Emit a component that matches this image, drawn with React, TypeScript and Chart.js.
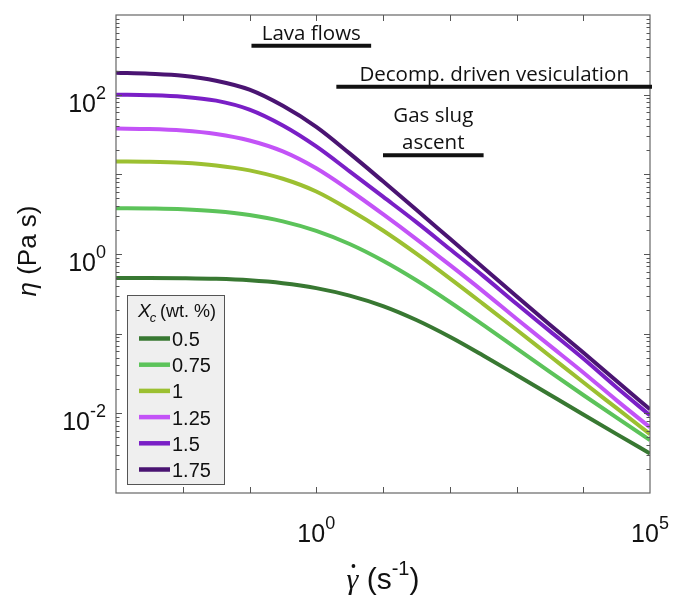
import React, { useEffect, useRef } from "react";
import { Chart, registerables } from "chart.js";

Chart.register(...registerables);

// ---------- data ----------
const shearRate = [0.001, 0.00316, 0.01, 0.0316, 0.1, 0.316, 1, 3.16, 10, 31.6, 100, 316, 1000, 3162, 10000, 31623, 100000];

const eta050 = [0.501, 0.501, 0.4966, 0.4875, 0.4677, 0.4305, 0.3733, 0.3006, 0.2218, 0.1483, 0.0914, 0.0532, 0.0303, 0.0171, 0.00966, 0.00548, 0.00313];
const eta075 = [3.758, 3.724, 3.648, 3.451, 3.09, 2.57, 1.95, 1.334, 0.822, 0.4677, 0.25, 0.1288, 0.0653, 0.0331, 0.01698, 0.00881, 0.00462];
const eta100 = [14.54, 14.4, 13.95, 12.93, 11.21, 8.8, 6.09, 3.585, 1.97, 1.01, 0.4948, 0.2368, 0.1121, 0.05243, 0.02453, 0.0116, 0.005489];
const eta125 = [37.6, 37.1, 35.5, 32.1, 26.6, 19.4, 11.9, 6.31, 3.16, 1.54, 0.729, 0.34, 0.154, 0.0708, 0.0326, 0.01454, 0.00668];
const eta150 = [100, 98.6, 94.4, 84.1, 64.9, 41, 22.4, 10.9, 5.24, 2.51, 1.155, 0.531, 0.237, 0.1075, 0.0487, 0.0211, 0.00944];
const eta175 = [188.4, 183, 172.9, 149.6, 115.5, 72.4, 39.4, 18.3, 8.17, 3.6, 1.56, 0.678, 0.294, 0.1296, 0.0579, 0.02547, 0.01122];

const seriesLabels = ["0.5", "0.75", "1", "1.25", "1.5", "1.75"];
const seriesValues = [eta050, eta075, eta100, eta125, eta150, eta175];
const seriesColors = ["#387832", "#5cc35a", "#9cc031", "#c353f7", "#7a1fc6", "#4a1472"];

const regimeLabels = [["Lava flows"], ["Decomp. driven vesiculation"], ["Gas slug", "ascent"]];
const regimeFrom = [0.107, 2, 10];
const regimeTo = [6.2, 100000, 300];
const regimeEta = [410, 126, 17.3];

const xLabelExponents = [0, 5];
const yLabelExponents = [2, 0, -2];
const xExpRange = [-3, 5];
const yExpRange = [-3, 3];

// ---------- drawing helpers ----------
const SANS = '"Liberation Sans", Arial, sans-serif';
const ANNOT = '"Open Sans", sans-serif';

function drawPow(ctx: CanvasRenderingContext2D, exp: number, x: number, baseY: number, align: "center" | "right") {
  ctx.save();
  ctx.fillStyle = "#111";
  ctx.textBaseline = "alphabetic";
  ctx.textAlign = "left";
  ctx.font = `25px ${SANS}`;
  const w1 = ctx.measureText("10").width;
  ctx.font = `18px ${SANS}`;
  const sup = String(exp);
  const w2 = ctx.measureText(sup).width;
  const total = w1 + w2;
  const sx = align === "center" ? x - total / 2 : x - total;
  ctx.font = `25px ${SANS}`;
  ctx.fillText("10", sx, baseY);
  ctx.font = `18px ${SANS}`;
  ctx.fillText(sup, sx + w1, baseY - 13);
  ctx.restore();
}

const decorPlugin = {
  id: "decor",
  afterDatasetsDraw(chart: any) {
    const { ctx, chartArea } = chart;
    const { left, top, right, bottom } = chartArea;
    const xs = chart.scales.x;
    const ys = chart.scales.y;
    ctx.save();

    // frame
    ctx.strokeStyle = "#666";
    ctx.lineWidth = 1.2;
    ctx.strokeRect(left, top, right - left, bottom - top);

    // x ticks (major only) on bottom and top
    ctx.lineWidth = 1;
    ctx.strokeStyle = "#555";
    for (let e = xExpRange[0] + 1; e < xExpRange[1]; e++) {
      const px = Math.round(xs.getPixelForValue(Math.pow(10, e))) + 0.5;
      ctx.beginPath();
      ctx.moveTo(px, bottom);
      ctx.lineTo(px, bottom - 6);
      ctx.moveTo(px, top);
      ctx.lineTo(px, top + 6);
      ctx.stroke();
    }
    // y ticks (major + minor) on left and right
    for (let e = yExpRange[0]; e < yExpRange[1]; e++) {
      for (let m = 1; m < 10; m++) {
        if (m === 1 && e === yExpRange[0]) continue;
        const v = m * Math.pow(10, e);
        const py = Math.round(ys.getPixelForValue(v)) + 0.5;
        const len = m === 1 ? 6 : 3.5;
        ctx.beginPath();
        ctx.moveTo(left, py);
        ctx.lineTo(left + len, py);
        ctx.moveTo(right, py);
        ctx.lineTo(right - len, py);
        ctx.stroke();
      }
    }

    // tick labels
    xLabelExponents.forEach((e) => {
      drawPow(ctx, e, xs.getPixelForValue(Math.pow(10, e)), 542, "center");
    });
    yLabelExponents.forEach((e) => {
      drawPow(ctx, e, 106, ys.getPixelForValue(Math.pow(10, e)) + 17, "right");
    });

    // regime annotation bars
    ctx.fillStyle = "#111";
    ctx.strokeStyle = "#111";
    ctx.lineWidth = 4;
    ctx.font = `20.5px ${ANNOT}`;
    ctx.textAlign = "center";
    ctx.textBaseline = "alphabetic";
    regimeLabels.forEach((lines, i) => {
      const x1 = xs.getPixelForValue(regimeFrom[i]);
      const x2 = Math.min(xs.getPixelForValue(regimeTo[i]) + 2, chart.width);
      const py = ys.getPixelForValue(regimeEta[i]);
      ctx.beginPath();
      ctx.moveTo(x1, py);
      ctx.lineTo(x2, py);
      ctx.stroke();
      const cx = (x1 + x2) / 2;
      const n = lines.length;
      lines.forEach((t, j) => {
        ctx.fillText(t, cx, py - 6 - (n - 1 - j) * 27);
      });
    });

    // legend box
    const lx = 127, ly = 295, lw = 97, lh = 189;
    ctx.fillStyle = "#efefef";
    ctx.fillRect(lx, ly, lw, lh);
    ctx.strokeStyle = "#555";
    ctx.lineWidth = 1;
    ctx.strokeRect(lx + 0.5, ly + 0.5, lw, lh);
    ctx.fillStyle = "#111";
    ctx.textAlign = "left";
    ctx.font = `italic 19px ${SANS}`;
    ctx.fillText("X", 138, 317);
    const wx = ctx.measureText("X").width;
    ctx.font = `italic 13px ${SANS}`;
    ctx.fillText("c", 138 + wx - 1, 322);
    ctx.font = `18px ${SANS}`;
    ctx.fillText("(wt. %)", 160, 317);
    seriesLabels.forEach((lab, i) => {
      const ry = 338.5 + i * 26.2;
      ctx.strokeStyle = seriesColors[i];
      ctx.lineWidth = 4.5;
      ctx.beginPath();
      ctx.moveTo(139, ry);
      ctx.lineTo(170, ry);
      ctx.stroke();
      ctx.fillStyle = "#111";
      ctx.font = `20px ${SANS}`;
      ctx.fillText(lab, 172, ry + 7.5);
    });

    // axis titles
    ctx.fillStyle = "#111";
    // y title
    ctx.save();
    ctx.translate(36, (top + bottom) / 2 - 3);
    ctx.rotate(-Math.PI / 2);
    ctx.font = `italic 26px ${SANS}`;
    const wEta = ctx.measureText("η").width;
    ctx.font = `26px ${SANS}`;
    const wRest = ctx.measureText(" (Pa s)").width;
    const st = -(wEta + wRest) / 2;
    ctx.font = `italic 26px ${SANS}`;
    ctx.fillText("η", st, 0);
    ctx.font = `26px ${SANS}`;
    ctx.fillText(" (Pa s)", st + wEta, 0);
    ctx.restore();

    // x title: gamma-dot (s^-1)
    const bx = 589;
    ctx.font = `italic 30px "Liberation Serif", serif`;
    const wG = ctx.measureText("γ").width;
    ctx.font = `30px ${SANS}`;
    const wA = ctx.measureText(" (s").width;
    ctx.font = `20px ${SANS}`;
    const wS = ctx.measureText("-1").width;
    ctx.font = `30px ${SANS}`;
    const wB = ctx.measureText(")").width;
    const tot = wG + wA + wS + wB;
    let sx = (left + right) / 2 - tot / 2;
    ctx.font = `italic 30px "Liberation Serif", serif`;
    ctx.fillText("γ", sx, bx);
    ctx.beginPath();
    ctx.arc(sx + wG / 2 + 1, bx - 23, 1.9, 0, Math.PI * 2);
    ctx.fill();
    sx += wG;
    ctx.font = `30px ${SANS}`;
    ctx.fillText(" (s", sx, bx);
    sx += wA;
    ctx.font = `20px ${SANS}`;
    ctx.fillText("-1", sx, bx - 14);
    sx += wS;
    ctx.font = `30px ${SANS}`;
    ctx.fillText(")", sx, bx);

    ctx.restore();
  },
};

export default function App() {
  const canvasRef = useRef<HTMLCanvasElement | null>(null);

  useEffect(() => {
    const canvas = canvasRef.current;
    if (!canvas) return;
    const datasets = seriesValues.map((vals, i) => ({
      label: seriesLabels[i],
      data: shearRate.map((x, k) => ({ x, y: vals[k] })),
      borderColor: seriesColors[i],
      backgroundColor: seriesColors[i],
      borderWidth: 4,
      pointRadius: 0,
      showLine: true,
      fill: false,
      cubicInterpolationMode: "monotone" as const,
    }));
    const chart = new Chart(canvas, {
      type: "scatter",
      data: { datasets },
      options: {
        animation: false,
        responsive: false,
        devicePixelRatio: 1,
        layout: { padding: { left: 116, top: 15, right: 25, bottom: 103 } },
        plugins: { legend: { display: false }, tooltip: { enabled: false } },
        scales: {
          x: { type: "logarithmic", min: Math.pow(10, xExpRange[0]), max: Math.pow(10, xExpRange[1]), display: false },
          y: { type: "logarithmic", min: Math.pow(10, yExpRange[0]), max: Math.pow(10, yExpRange[1]), display: false },
        },
      },
      plugins: [decorPlugin],
    });
    return () => chart.destroy();
  }, []);

  return (
    <div style={{ position: "absolute", left: 0, top: 0, width: 675, height: 596, background: "#fff" }}>
      <canvas ref={canvasRef} width={675} height={596} style={{ display: "block" }} />
    </div>
  );
}
